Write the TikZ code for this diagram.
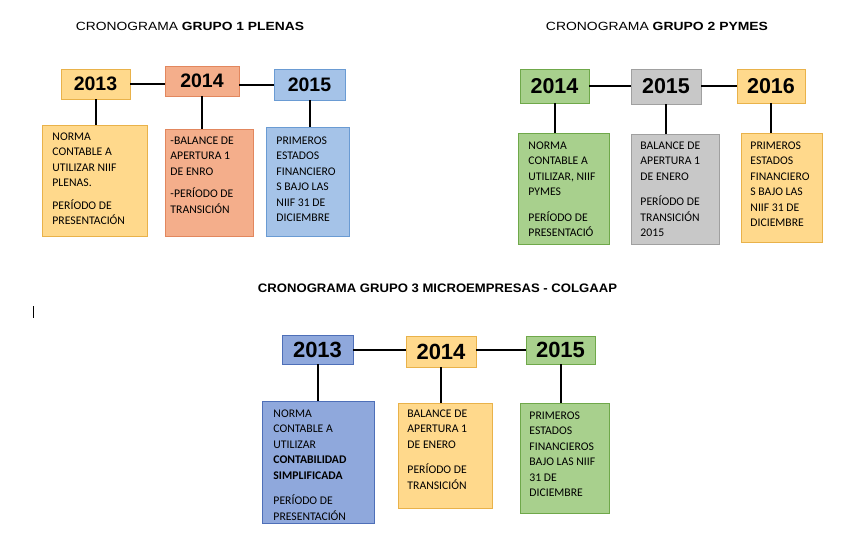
\documentclass[tikz,border=0pt]{standalone}
\usepackage{fontspec}
\setmainfont{Carlito}
\newfontfamily\arialf{Liberation Sans}
\usepackage{graphicx}
\definecolor{goldF}{HTML}{FFD98C}
\definecolor{goldB}{HTML}{E9B24A}
\definecolor{salF}{HTML}{F4AE8B}
\definecolor{salB}{HTML}{E2875E}
\definecolor{lbF}{HTML}{A5C3E8}
\definecolor{lbB}{HTML}{6A9BD3}
\definecolor{grF}{HTML}{A8D08D}
\definecolor{grB}{HTML}{6FA84A}
\definecolor{gyF}{HTML}{C8C8C8}
\definecolor{gyB}{HTML}{A0A0A0}
\definecolor{dbF}{HTML}{8FA8DC}
\definecolor{dbB}{HTML}{4E6FB8}
\newcommand\tx[5]{\parbox[c][#2][t]{#1}{\fontsize{11.7}{15.5}\selectfont\raggedright\leftskip=#3\relax\rule{0pt}{#4}#5\par}}
\tikzset{
  ybox/.style={draw, line width=0.9pt, inner sep=0pt, font=\arialf\bfseries},
  tbox/.style={draw, line width=0.9pt, inner sep=0pt, anchor=north west},
  conn/.style={line width=2pt, black},
  ttl/.style={inner sep=0pt, font=\arialf}
}
\begin{document}
\begin{tikzpicture}[x=1pt,y=-1pt]
\useasboundingbox (0,0) rectangle (855,533);
\fill[white] (0,0) rectangle (855,533);

% titles
\node[ttl] (t1) at (190,26) {\resizebox{228pt}{8.3pt}{CRONOGRAMA \textbf{GRUPO 1 PLENAS}}};
\node[ttl] (t2) at (657,26) {\resizebox{222pt}{8.3pt}{CRONOGRAMA \textbf{GRUPO 2 PYMES}}};
\node[ttl] (t3) at (437.5,288.5) {\resizebox{359pt}{8.6pt}{\textbf{CRONOGRAMA GRUPO 3 MICROEMPRESAS - COLGAAP}}};

% cursor mark
\draw[line width=0.8pt] (33,306) -- (33,318);

% ---------- group 1
\node[ybox, fill=goldF, draw=goldB, minimum width=69pt, minimum height=30pt, font=\arialf\bfseries\fontsize{19.5}{20}\selectfont] (g1a) at (95.5,84) {2013};
\node[ybox, fill=salF, draw=salB, minimum width=74pt, minimum height=30pt, font=\arialf\bfseries\fontsize{19.5}{20}\selectfont] (g1b) at (202,81) {2014};
\node[ybox, fill=lbF, draw=lbB, minimum width=71pt, minimum height=31pt, font=\arialf\bfseries\fontsize{19.5}{20}\selectfont] (g1c) at (309.5,84.5) {2015};

\node[tbox, fill=goldF, draw=goldB] (g1ta) at (42,125) {\tx{105pt}{111pt}{10pt}{15pt}{NORMA\\CONTABLE A\\UTILIZAR NIIF\\PLENAS.\\[7pt]PERÍODO DE\\PRESENTACIÓN}};
\node[tbox, fill=salF, draw=salB] (g1tb) at (165,129) {\tx{88pt}{107pt}{5pt}{15pt}{-BALANCE DE\\APERTURA 1\\DE ENRO\\[7pt]-PERÍODO DE\\TRANSICIÓN}};
\node[tbox, fill=lbF, draw=lbB] (g1tc) at (266,127) {\tx{83pt}{109pt}{10pt}{17pt}{PRIMEROS\\ESTADOS\\FINANCIERO\\S BAJO LAS\\NIIF 31 DE\\DICIEMBRE}};

\draw[conn] (g1a.east) -- (g1a.east -| g1b.west);
\draw[conn] (g1c.west) -- (g1c.west -| g1b.east);
\draw[conn] (g1a.south) -- (g1a.south |- g1ta.north);
\draw[conn] (g1b.south) -- (g1b.south |- g1tb.north);
\draw[conn] (g1c.south) -- (g1c.south |- g1tc.north);

% ---------- group 2
\node[ybox, fill=grF, draw=grB, minimum width=69pt, minimum height=34pt, font=\arialf\bfseries\fontsize{21.5}{22}\selectfont] (g2a) at (554.5,86) {2014};
\node[ybox, fill=gyF, draw=gyB, minimum width=70pt, minimum height=35pt, font=\arialf\bfseries\fontsize{21.5}{22}\selectfont] (g2b) at (666,86.5) {2015};
\node[ybox, fill=goldF, draw=goldB, minimum width=68pt, minimum height=34pt, font=\arialf\bfseries\fontsize{21.5}{22}\selectfont] (g2c) at (771,86) {2016};

\node[tbox, fill=grF, draw=grB] (g2ta) at (518,133) {\tx{91pt}{111pt}{10pt}{16pt}{NORMA\\CONTABLE A\\UTILIZAR, NIIF\\PYMES\\[10pt]PERÍODO DE\\PRESENTACIÓ}};
\node[tbox, fill=gyF, draw=gyB] (g2tb) at (631,134) {\tx{88pt}{110pt}{9pt}{15pt}{BALANCE DE\\APERTURA 1\\DE ENERO\\[10pt]PERÍODO DE\\TRANSICIÓN\\2015}};
\node[tbox, fill=goldF, draw=goldB] (g2tc) at (741,133) {\tx{81pt}{109pt}{9pt}{16pt}{PRIMEROS\\ESTADOS\\FINANCIERO\\S BAJO LAS\\NIIF 31 DE\\DICIEMBRE}};

\draw[conn] (g2a.east) -- (g2a.east -| g2b.west);
\draw[conn] (g2c.west) -- (g2c.west -| g2b.east);
\draw[conn] (g2a.south) -- (g2a.south |- g2ta.north);
\draw[conn] (g2b.south) -- (g2b.south |- g2tb.north);
\draw[conn] (g2c.south) -- (g2c.south |- g2tc.north);

% ---------- group 3
\node[ybox, fill=dbF, draw=dbB, minimum width=71pt, minimum height=29pt, font=\arialf\bfseries\fontsize{22}{23}\selectfont] (g3a) at (317.5,349.5) {2013};
\node[ybox, fill=goldF, draw=goldB, minimum width=70pt, minimum height=31pt, font=\arialf\bfseries\fontsize{22}{23}\selectfont] (g3b) at (441,351.5) {2014};
\node[ybox, fill=grF, draw=grB, minimum width=69pt, minimum height=28pt, font=\arialf\bfseries\fontsize{22}{23}\selectfont] (g3c) at (560.5,350) {2015};

\node[tbox, fill=dbF, draw=dbB] (g3ta) at (262,401) {\tx{112pt}{122pt}{11pt}{16pt}{NORMA\\CONTABLE A\\UTILIZAR\\\textbf{CONTABILIDAD}\\\textbf{SIMPLIFICADA}\\[10pt]PERÍODO DE\\PRESENTACIÓN}};
\node[tbox, fill=goldF, draw=goldB] (g3tb) at (398,403) {\tx{94pt}{105pt}{9pt}{14pt}{BALANCE DE\\APERTURA 1\\DE ENERO\\[10pt]PERÍODO DE\\TRANSICIÓN}};
\node[tbox, fill=grF, draw=grB] (g3tc) at (520,403) {\tx{89pt}{110pt}{9pt}{16pt}{PRIMEROS\\ESTADOS\\FINANCIEROS\\BAJO LAS NIIF\\31 DE\\DICIEMBRE}};

\draw[conn] (g3a.east) -- (g3a.east -| g3b.west);
\draw[conn] (g3c.west) -- (g3c.west -| g3b.east);
\draw[conn] (g3a.south) -- (g3a.south |- g3ta.north);
\draw[conn] (g3b.south) -- (g3b.south |- g3tb.north);
\draw[conn] (g3c.south) -- (g3c.south |- g3tc.north);
\end{tikzpicture}
\end{document}
